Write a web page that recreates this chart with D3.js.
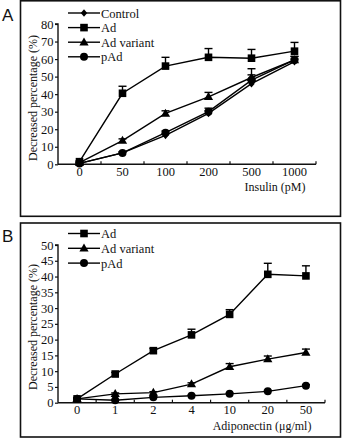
<!DOCTYPE html>
<html>
<head>
<meta charset="utf-8">
<script src="https://cdn.jsdelivr.net/npm/d3@7"></script>
<style>
  body { margin: 0; background: #fff; }
  svg { display: block; }
  svg text { font-family: 'Liberation Serif', 'DejaVu Serif', serif !important; fill: #111; }
  svg text.letter { font-family: 'Liberation Sans', 'DejaVu Sans', sans-serif !important; }
</style>
</head>
<body>
<svg id="chart" width="343" height="440"></svg>
<script>
// panel A: insulin dose
const insulinDoses = ['0', '50', '100', '200', '500', '1000']
const insulinTicks = [0, 10, 20, 30, 40, 50, 60, 70, 80]
const controlA = [0.5, 6.5, 16.5, 29, 46, 58.5]
const controlAErr = [0.3, 0.5, 1, 1.5, 2, 1.5]
const adA = [1.5, 40.5, 56, 61, 60.5, 64.5]
const adAErr = [0.5, 4, 5, 5, 5, 5]
const variantA = [1, 13.5, 29, 38.5, 49.5, 59.5]
const variantAErr = [0.5, 1, 1.5, 2.5, 5, 2]
const pAdA = [0.5, 6.5, 18, 30, 48, 59.5]
const pAdAErr = [0.3, 0.5, 1, 2, 3, 2]

// panel B: adiponectin dose
const adipoDoses = ['0', '1', '2', '4', '10', '20', '50']
const adipoTicks = [0, 5, 10, 15, 20, 25, 30, 35, 40, 45, 50]
const adB = [1.2, 9.1, 16.5, 21.5, 28, 40.7, 40.2]
const adBErr = [0.3, 0.5, 0.7, 1.8, 1.5, 3.5, 3.2]
const variantB = [1.2, 2.8, 3.2, 5.9, 11.4, 13.8, 15.9]
const variantBErr = [0.2, 0.3, 0.3, 0.4, 1, 1, 1.1]
const pAdB = [1.2, 0.8, 1.7, 2.2, 2.8, 3.6, 5.4]
const pAdBErr = [0.1, 0.1, 0.2, 0.2, 0.2, 0.3, 0.3]

const svg = d3.select('#chart')
const FS = '12px'

function marker(g, shape, x, y) {
  if (shape === 'square') {
    g.append('rect').attr('x', x - 3.8).attr('y', y - 3.8).attr('width', 7.6).attr('height', 7.6).attr('fill', '#000')
  } else if (shape === 'triangle') {
    g.append('path').attr('d', `M${x},${y - 4.8}L${x + 4.6},${y + 3.2}L${x - 4.6},${y + 3.2}Z`).attr('fill', '#000')
  } else if (shape === 'circle') {
    g.append('circle').attr('cx', x).attr('cy', y).attr('r', 4).attr('fill', '#000')
  } else {
    g.append('path').attr('d', `M${x},${y - 3.8}L${x + 3.2},${y}L${x},${y + 3.8}L${x - 3.2},${y}Z`).attr('fill', '#000')
  }
}

function panel(opt) {
  const g = svg.append('g')

  // frame
  g.append('rect')
    .attr('x', opt.box[0]).attr('y', opt.box[1])
    .attr('width', opt.box[2]).attr('height', opt.box[3])
    .attr('fill', 'none').attr('stroke', '#111').attr('stroke-width', 1.6)

  g.append('text').attr('class', 'letter')
    .attr('x', 2).attr('y', opt.letterY)
    .style('font-size', '17px')
    .text(opt.letter)

  const x = d3.scaleBand().domain(opt.doses).range(opt.xRange)
  const y = d3.scaleLinear().domain([0, opt.yMax]).range(opt.yRange)

  // y axis
  const yAxis = d3.axisLeft(y).tickValues(opt.yTicks).tickSize(3).tickPadding(1.5)
  const ya = g.append('g').attr('transform', `translate(${opt.xRange[0]},0)`).call(yAxis)
  ya.attr('font-family', null)
  ya.select('.domain').attr('d', `M-3,${opt.yRange[1]}H0V${opt.yRange[0]}`).attr('stroke', '#111').attr('stroke-width', 1.4)
  ya.selectAll('.tick line').attr('stroke', '#111').attr('stroke-width', 1.2)
  ya.selectAll('.tick text').style('font-size', '12.5px')

  // x axis: labels at band centres, ticks at band edges
  const xAxis = d3.axisBottom(x).tickSize(0).tickPadding(2.5)
  const xa = g.append('g').attr('transform', `translate(0,${opt.yRange[0]})`).call(xAxis)
  xa.attr('font-family', null)
  xa.select('.domain').attr('d', `M${opt.xRange[0]},0H${opt.xRange[1]}`).attr('stroke', '#111').attr('stroke-width', 1.4)
  xa.selectAll('.tick text').style('font-size', '12.5px')
  const edges = opt.doses.map(d => x(d)).slice(1).concat([opt.xRange[1]])
  xa.selectAll('.edge').data(edges).enter().append('line')
    .attr('x1', d => d).attr('x2', d => d).attr('y1', 0).attr('y2', -3)
    .attr('stroke', '#111').attr('stroke-width', 1.2)

  g.append('text')
    .attr('x', opt.xTitlePos[0]).attr('y', opt.xTitlePos[1])
    .attr('text-anchor', 'middle')
    .style('font-size', FS)
    .text(opt.xTitle)

  g.append('text')
    .attr('transform', `translate(${opt.yTitlePos[0]},${opt.yTitlePos[1]}) rotate(-90)`)
    .attr('text-anchor', 'middle')
    .style('font-size', FS)
    .text('Decreased percentage  (%)')

  const cx = d => x(d) + x.bandwidth() / 2
  const line = d3.line().x(d => cx(d[0])).y(d => y(d[1]))

  opt.series.forEach(s => {
    const pts = opt.doses.map((d, i) => [d, s.values[i], s.errors[i]])
    g.append('path').datum(pts).attr('d', line)
      .attr('fill', 'none').attr('stroke', '#000').attr('stroke-width', 1.4)
    // upward error bars with caps
    pts.forEach(p => {
      const top = y(p[1] + p[2])
      g.append('line').attr('x1', cx(p[0])).attr('x2', cx(p[0]))
        .attr('y1', y(p[1])).attr('y2', top).attr('stroke', '#000').attr('stroke-width', 1.4)
      g.append('line').attr('x1', cx(p[0]) - 4).attr('x2', cx(p[0]) + 4)
        .attr('y1', top).attr('y2', top).attr('stroke', '#000').attr('stroke-width', 1.4)
    })
    pts.forEach(p => marker(g, s.shape, cx(p[0]), y(p[1])))
  })

  // legend
  opt.series.forEach((s, i) => {
    const ly = opt.legendY + i * opt.legendStep
    g.append('line').attr('x1', 68).attr('x2', 100).attr('y1', ly).attr('y2', ly)
      .attr('stroke', '#000').attr('stroke-width', 1.4)
    marker(g, s.shape, 84, ly)
    g.append('text').attr('x', 101).attr('y', ly + 4.5).style('font-size', '12.5px').text(s.name)
  })
}

panel({
  letter: 'A',
  letterY: 21,
  box: [20.5, 0.8, 320, 215.5],
  doses: insulinDoses,
  yTicks: insulinTicks,
  yMax: 80,
  xRange: [58, 316],
  yRange: [164.3, 24],
  xTitle: 'Insulin (pM)',
  xTitlePos: [275, 191],
  yTitlePos: [37, 98],
  legendY: 13,
  legendStep: 14.6,
  series: [
    { name: 'Control', shape: 'diamond', values: controlA, errors: controlAErr },
    { name: 'Ad', shape: 'square', values: adA, errors: adAErr },
    { name: 'Ad variant', shape: 'triangle', values: variantA, errors: variantAErr },
    { name: 'pAd', shape: 'circle', values: pAdA, errors: pAdAErr }
  ]
})

panel({
  letter: 'B',
  letterY: 242,
  box: [20.5, 223, 320, 214],
  doses: adipoDoses,
  yTicks: adipoTicks,
  yMax: 50,
  xRange: [58, 325],
  yRange: [402.7, 245],
  xTitle: 'Adiponectin (μg/ml)',
  xTitlePos: [262, 429.5],
  yTitlePos: [37, 327],
  legendY: 233.5,
  legendStep: 14.8,
  series: [
    { name: 'Ad', shape: 'square', values: adB, errors: adBErr },
    { name: 'Ad variant', shape: 'triangle', values: variantB, errors: variantBErr },
    { name: 'pAd', shape: 'circle', values: pAdB, errors: pAdBErr }
  ]
})
</script>
</body>
</html>
